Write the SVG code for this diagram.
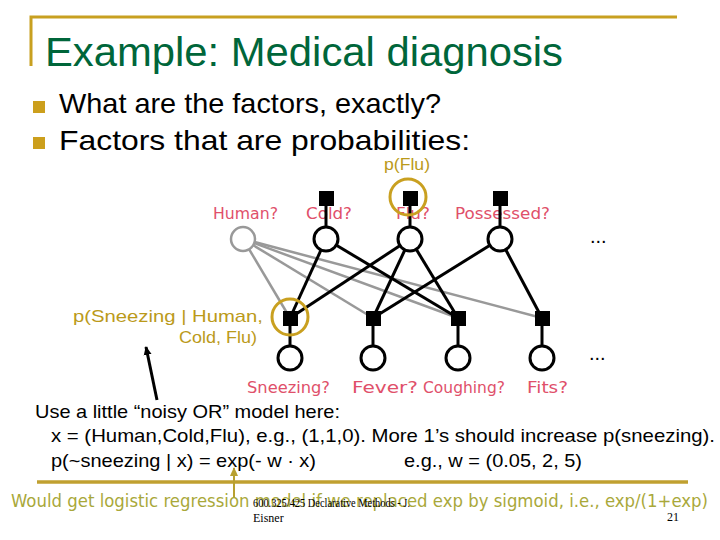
<svg xmlns="http://www.w3.org/2000/svg" width="720" height="540" viewBox="0 0 720 540">
<style>
.frame{stroke:#c8a020;stroke-width:3;fill:none}
.bul{fill:#cc9f1c}
.title{font-family:"Liberation Sans",Arial,sans-serif;font-size:40px;fill:#00663a}
.body{font-family:"Liberation Sans",Arial,sans-serif;fill:#000}
.lab{font-family:"DejaVu Sans",sans-serif;font-size:15px;fill:#e0506a}
.gold{font-family:"Liberation Sans",Arial,sans-serif;fill:#bb9a1a}
.olive{font-family:"DejaVu Sans",sans-serif;font-size:18px;fill:#a9a83a}
.foot{font-family:"Liberation Serif","Times New Roman",serif;font-size:12px;fill:#000}
.e{stroke:#000;stroke-width:3;fill:none}
.g{stroke:#999;stroke-width:2.5;fill:none}
.var{fill:#fff;stroke:#000;stroke-width:3}
.fac{fill:#000}
.hl{fill:none;stroke:#c9a020;stroke-width:3}
</style>
<defs>
<marker id="ah" markerWidth="10" markerHeight="10" refX="8" refY="5" orient="auto" markerUnits="userSpaceOnUse">
<path d="M0,1 L9,5 L0,9 Z" fill="#000"/>
</marker>
<marker id="ahg" markerWidth="10" markerHeight="10" refX="8" refY="5" orient="auto" markerUnits="userSpaceOnUse">
<path d="M0,1 L9,5 L0,9 Z" fill="#b8a030"/>
</marker>
</defs>
<rect width="720" height="540" fill="#fff"/>
<path class="frame" d="M31,66 V17 H677"/>
<text class="title" x="45" y="66" textLength="518" lengthAdjust="spacingAndGlyphs">Example: Medical diagnosis</text>
<rect class="bul" x="33" y="101" width="12" height="12"/>
<rect class="bul" x="33" y="137" width="12" height="12"/>
<text class="body" x="59" y="113" font-size="28" textLength="382" lengthAdjust="spacingAndGlyphs">What are the factors, exactly?</text>
<text class="body" x="59" y="150" font-size="28" textLength="411" lengthAdjust="spacingAndGlyphs">Factors that are probabilities:</text>
<text class="gold" x="384" y="170" font-size="16" textLength="46" lengthAdjust="spacingAndGlyphs">p(Flu)</text>

<g id="labels">
<text class="lab" x="213" y="219" textLength="65" lengthAdjust="spacingAndGlyphs">Human?</text>
<text class="lab" x="306" y="219" textLength="46" lengthAdjust="spacingAndGlyphs">Cold?</text>
<text class="lab" x="396" y="219" textLength="34" lengthAdjust="spacingAndGlyphs">Flu?</text>
<text class="lab" x="455" y="219" textLength="95" lengthAdjust="spacingAndGlyphs">Possessed?</text>
<text class="lab" x="247" y="393" textLength="83" lengthAdjust="spacingAndGlyphs">Sneezing?</text>
<text class="lab" x="352" y="393" textLength="66" lengthAdjust="spacingAndGlyphs">Fever?</text>
<text class="lab" x="423" y="393" textLength="82" lengthAdjust="spacingAndGlyphs">Coughing?</text>
<text class="lab" x="527" y="393" textLength="41" lengthAdjust="spacingAndGlyphs">Fits?</text>
</g>

<g id="connectors">
<line class="g" x1="243" y1="239" x2="290" y2="318"/>
<line class="g" x1="243" y1="239" x2="373" y2="318"/>
<line class="g" x1="243" y1="239" x2="458" y2="318"/>
<line class="g" x1="243" y1="239" x2="542" y2="318"/>
<line class="e" x1="326" y1="198" x2="326" y2="239"/>
<line class="e" x1="410" y1="198" x2="410" y2="239"/>
<line class="e" x1="500" y1="198" x2="500" y2="239"/>
<line class="e" x1="326" y1="239" x2="290" y2="318"/>
<line class="e" x1="326" y1="239" x2="458" y2="318"/>
<line class="e" x1="410" y1="239" x2="290" y2="318"/>
<line class="e" x1="410" y1="239" x2="373" y2="318"/>
<line class="e" x1="410" y1="239" x2="458" y2="318"/>
<line class="e" x1="500" y1="239" x2="373" y2="318"/>
<line class="e" x1="500" y1="239" x2="542" y2="318"/>
<line class="e" x1="290" y1="318" x2="290" y2="358"/>
<line class="e" x1="373" y1="318" x2="373" y2="358"/>
<line class="e" x1="458" y1="318" x2="458" y2="358"/>
<line class="e" x1="542" y1="318" x2="542" y2="358"/>
</g>

<g id="f-cold"><rect class="fac" x="319" y="191" width="15" height="15"/></g>
<g id="f-flu"><rect class="fac" x="403" y="191" width="15" height="15"/><circle class="hl" cx="408" cy="197" r="18"/></g>
<g id="f-possessed"><rect class="fac" x="493" y="191" width="15" height="15"/></g>
<g id="v-human"><circle cx="243" cy="239" r="12" fill="#fff" stroke="#999" stroke-width="2.5"/></g>
<g id="v-cold"><circle class="var" cx="326" cy="239" r="12"/></g>
<g id="v-flu"><circle class="var" cx="410" cy="239" r="12"/></g>
<g id="v-possessed"><circle class="var" cx="500" cy="239" r="12"/></g>
<g id="f-sneezing"><rect class="fac" x="283" y="311" width="15" height="15"/><circle class="hl" cx="290" cy="317" r="18"/></g>
<g id="f-fever"><rect class="fac" x="366" y="311" width="15" height="15"/></g>
<g id="f-coughing"><rect class="fac" x="451" y="311" width="15" height="15"/></g>
<g id="f-fits"><rect class="fac" x="535" y="311" width="15" height="15"/></g>
<g id="v-sneezing"><circle class="var" cx="290" cy="358" r="12"/></g>
<g id="v-fever"><circle class="var" cx="373" cy="358" r="12"/></g>
<g id="v-coughing"><circle class="var" cx="458" cy="358" r="12"/></g>
<g id="v-fits"><circle class="var" cx="542" cy="358" r="12"/></g>

<text class="body" x="590" y="243" font-size="20">...</text>
<text class="body" x="589" y="360" font-size="20">...</text>

<text class="gold" x="73" y="322" font-size="17" textLength="190" lengthAdjust="spacingAndGlyphs">p(Sneezing | Human,</text>
<text class="gold" x="179" y="343" font-size="17" textLength="78" lengthAdjust="spacingAndGlyphs">Cold, Flu)</text>

<line x1="157" y1="400" x2="146" y2="347" stroke="#000" stroke-width="3" marker-end="url(#ah)"/>

<text class="body" x="35" y="418" font-size="19" textLength="305" lengthAdjust="spacingAndGlyphs">Use a little “noisy OR” model here:</text>
<text class="body" x="51" y="442" font-size="19" textLength="664" lengthAdjust="spacingAndGlyphs">x = (Human,Cold,Flu), e.g., (1,1,0).   More 1’s should increase p(sneezing).</text>
<text class="body" x="51" y="467" font-size="19" textLength="265" lengthAdjust="spacingAndGlyphs">p(~sneezing | x) = exp(- w · x)</text>
<text class="body" x="404" y="467" font-size="19" textLength="178" lengthAdjust="spacingAndGlyphs">e.g., w = (0.05, 2, 5)</text>

<line x1="37" y1="482" x2="688" y2="482" stroke="#c0a030" stroke-width="3.5"/>
<line x1="234" y1="498" x2="234" y2="468" stroke="#b8a030" stroke-width="2" marker-end="url(#ahg)"/>
<text class="olive" x="11" y="507" textLength="697" lengthAdjust="spacingAndGlyphs">Would get logistic regression model if we replaced exp by sigmoid, i.e., exp/(1+exp)</text>
<text class="foot" x="253" y="507" textLength="157" lengthAdjust="spacingAndGlyphs">600.325/425 Declarative Methods - J.</text>
<text class="foot" x="253" y="522">Eisner</text>
<text class="foot" x="667" y="521">21</text>
</svg>
